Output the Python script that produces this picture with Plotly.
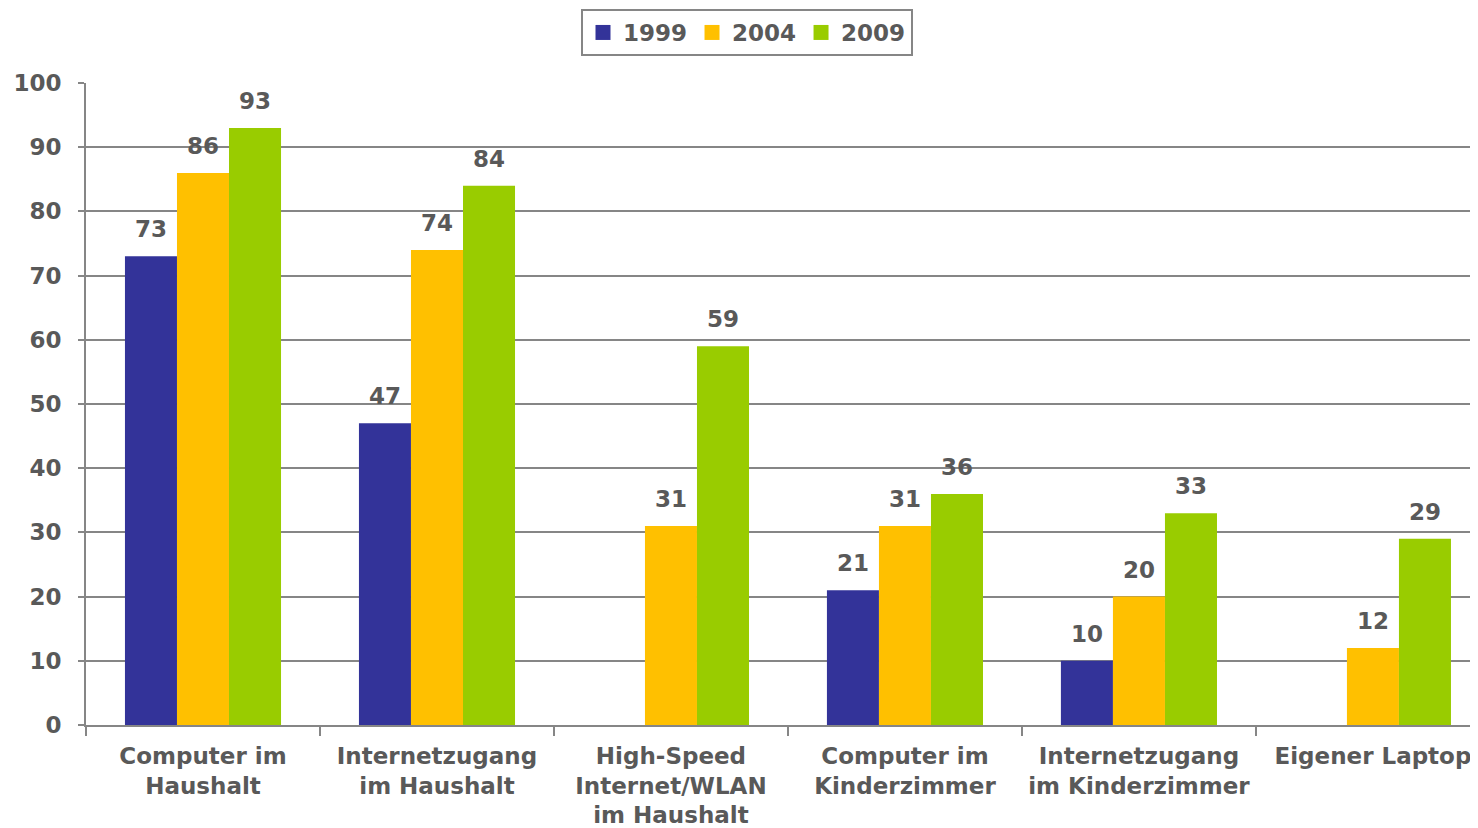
import plotly.graph_objects as go

categories = ["Computer im<br>Haushalt", "Internetzugang<br>im Haushalt",
              "High-Speed<br>Internet/WLAN<br>im Haushalt", "Computer im<br>Kinderzimmer",
              "Internetzugang<br>im Kinderzimmer", "Eigener Laptop"]
years = ["1999", "2004", "2009"]
v1999 = [73, 47, None, 21, 10, None]
v2004 = [86, 74, 31, 31, 20, 12]
v2009 = [93, 84, 59, 36, 33, 29]
colors = ["#333399", "#FFC000", "#99CC00"]

grey = "#595959"
linec = "#868686"
fnt = dict(family="DejaVu Sans", size=23, color=grey)

fig = go.Figure()
for i, (name, vals, col) in enumerate(zip(years, [v1999, v2004, v2009], colors)):
    fig.add_trace(go.Bar(x=categories, y=vals, name=name, marker_color=col,
                         marker_line_width=0, showlegend=False))
    # legend entry with a bigger square
    fig.add_trace(go.Scatter(x=[None], y=[None], mode="markers", name="<b>%s</b>" % name,
                             marker=dict(symbol="square", size=15, color=col)))
    for c, v in zip(categories, vals):
        if v is None:
            continue
        fig.add_annotation(x=c, y=v, text="<b>%d</b>" % v, showarrow=False,
                           xshift=(i - 1) * 52, yshift=12, yanchor="bottom", font=fnt)

# page body has an 8px margin, so the figure is shifted by 8px
fig.update_layout(
    width=1478, height=828,
    margin=dict(l=78, r=8, t=75, b=111, autoexpand=False),
    plot_bgcolor="white", paper_bgcolor="white",
    barmode="group", bargap=0.333, bargroupgap=0,
    font=fnt,
    legend=dict(orientation="h", xref="container", x=0.5, xanchor="center",
                yref="container", y=1 - 1 / 828, yanchor="top",
                bordercolor=linec, borderwidth=2,
                font=dict(family="DejaVu Sans", size=23, color=grey),
                itemwidth=30, tracegroupgap=0),
    xaxis=dict(range=[-0.5, 5.449], tickson="boundaries", ticks="outside", ticklen=9,
               tickcolor=linec, tickwidth=2, showline=True, linecolor=linec, linewidth=2,
               tickfont=fnt, tickprefix="<b>", ticksuffix="</b>",
               ticklabelstandoff=9, automargin=False),
    yaxis=dict(range=[0, 100], dtick=10, showgrid=True, gridcolor=linec, gridwidth=2,
               ticks="outside", ticklen=6, tickcolor=linec, tickwidth=2,
               showline=True, linecolor=linec, linewidth=2, zeroline=False,
               tickfont=fnt, tickprefix="<b>", ticksuffix="</b>",
               ticklabelstandoff=12, automargin=False),
)
fig.write_html("out.html")
